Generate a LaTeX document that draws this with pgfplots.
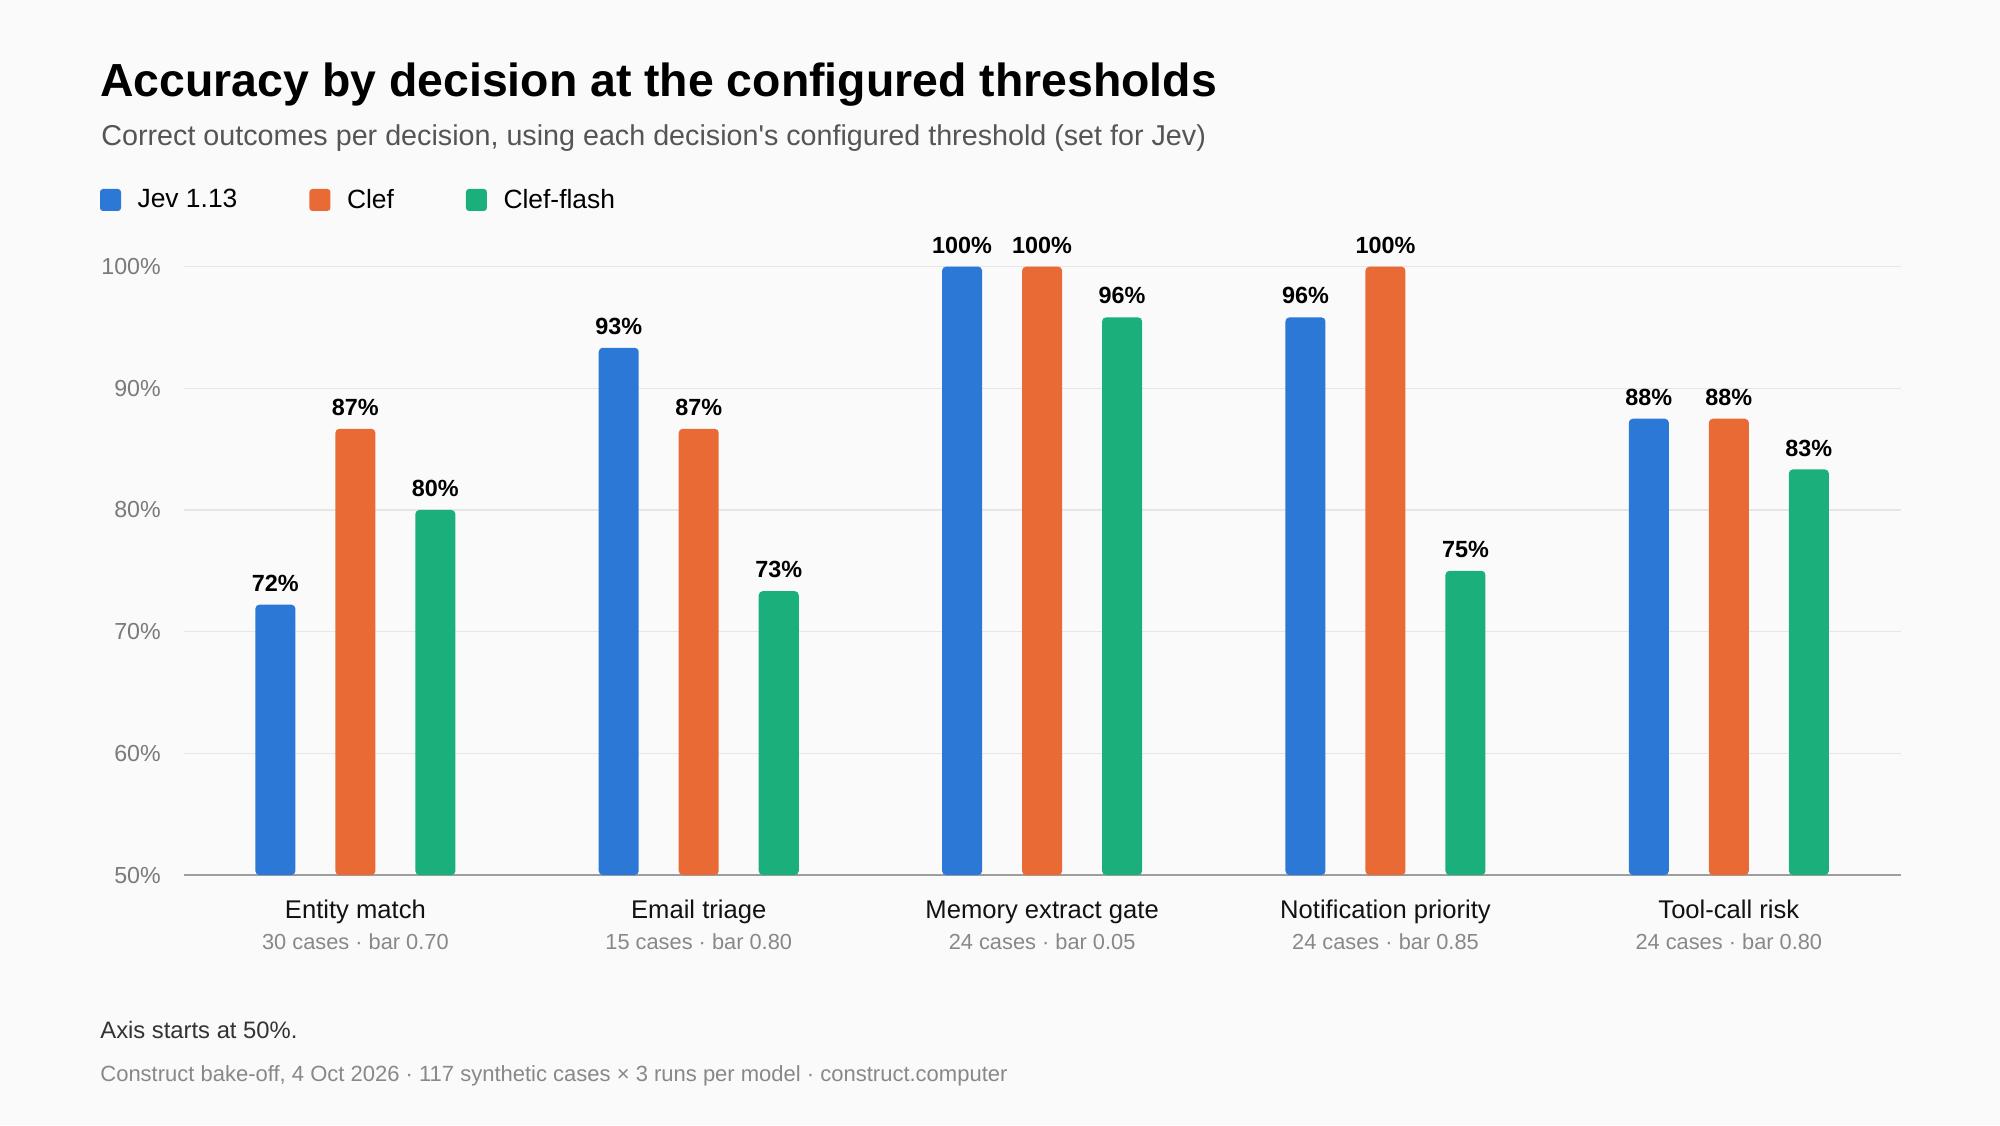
\documentclass[border=0pt]{standalone}
\usepackage{fontspec}
\setmainfont{Liberation Sans}
\usepackage{pgfplots}
\usepackage{pgfplotstable}
\pgfplotsset{compat=1.18}
\definecolor{bg}{HTML}{FAFAFA}
\definecolor{cblue}{HTML}{2B78D6}
\definecolor{corange}{HTML}{EA6A35}
\definecolor{cgreen}{HTML}{1BAF7C}
\definecolor{gridc}{HTML}{E6E6E6}
\definecolor{basec}{HTML}{9E9E9E}
\definecolor{tickc}{HTML}{7A7A7A}
\definecolor{subc}{HTML}{555555}
\definecolor{notec}{HTML}{888888}
\definecolor{darkc}{HTML}{333333}

% accuracy in percent; lab = printed label
\pgfplotstableread{
x acc lab
0 72.22 72
1 93.33 93
2 100 100
3 95.83 96
4 87.5 88
}\jev
\pgfplotstableread{
x acc lab
0 86.67 87
1 86.67 87
2 100 100
3 100 100
4 87.5 88
}\clef
\pgfplotstableread{
x acc lab
0 80 80
1 73.33 73
2 95.83 96
3 75 75
4 83.33 83
}\flash

\begin{document}
\begin{tikzpicture}
\fill[bg] (0,0) rectangle (1000pt,-562.5pt);
\useasboundingbox (0,0) rectangle (1000pt,-562.5pt);
\node[anchor=base west, inner sep=0pt, font=\fontsize{23.2}{26}\selectfont\bfseries] at (50pt,-48pt) {Accuracy by decision at the configured thresholds};
\node[anchor=base west, inner sep=0pt, text=subc, font=\fontsize{14.35}{17}\selectfont] at (50.5pt,-72.5pt) {Correct outcomes per decision, using each decision\textquotesingle s configured threshold (set for Jev)};
\begin{axis}[
  at={(91.85pt,-437.5pt)}, anchor=south west,
  scale only axis, width=858.4pt, height=304.2pt,
  xmin=-0.5, xmax=4.5, ymin=0, ymax=50,
  clip=false,
  axis line style={draw=none},
  major tick length=0pt,
  tick style={draw=none},
  ytick={0,10,20,30,40,50},
  yticklabels={50\%,60\%,70\%,80\%,90\%,100\%},
  yticklabel style={anchor=east, inner sep=0pt, xshift=-11.3pt, text=tickc, font=\fontsize{11.6}{13}\selectfont},
  ymajorgrids, grid style={gridc, line width=0.6pt},
  extra y ticks={0},
  extra y tick labels={},
  extra y tick style={grid style={basec, line width=1pt}},
  xtick={0,1,2,3,4},
  xticklabels={Entity match, Email triage, Memory extract gate, Notification priority, Tool-call risk},
  xticklabel style={anchor=base, inner sep=0pt, yshift=-21.7pt, font=\fontsize{12.8}{15}\selectfont, text=black!93},
  extra x ticks={0,1,2,3,4},
  extra x tick labels={30 cases · bar 0.70, 15 cases · bar 0.80, 24 cases · bar 0.05, 24 cases · bar 0.85, 24 cases · bar 0.80},
  extra x tick style={xticklabel style={yshift=-15.5pt, font=\fontsize{10.9}{12}\selectfont, text=notec}},
  ybar, bar width=20pt,
  nodes near coords={\pgfplotspointmeta\%},
  every node near coord/.append style={anchor=base, yshift=6.7pt, inner sep=0pt, font=\fontsize{11.7}{13}\selectfont\bfseries, text=black},
  legend columns=3,
  legend image code/.code={\fill[#1, rounded corners=1.5pt] (0pt,-5.5pt) rectangle (10.5pt,5.5pt);},
  legend style={at={(-0.04875,1.1095)}, anchor=west, draw=none, fill=none, inner sep=0pt, outer sep=0pt,
    font=\fontsize{13.2}{15}\selectfont,
    /tikz/every odd column/.append style={column sep=6.3pt},
    /tikz/every even column/.append style={column sep=34pt},
    cells={anchor=west, inner sep=0pt}},
]
\addplot[fill=cblue, draw=none, rounded corners=2pt, bar shift=-40pt, point meta=explicit symbolic]
  table[x=x, y expr=\thisrow{acc}-50, meta=lab] {\jev};
\addlegendentry{Jev 1.13}
\addplot[fill=corange, draw=none, rounded corners=2pt, bar shift=0pt, point meta=explicit symbolic]
  table[x=x, y expr=\thisrow{acc}-50, meta=lab] {\clef};
\addlegendentry{Clef}
\addplot[fill=cgreen, draw=none, rounded corners=2pt, bar shift=40pt, point meta=explicit symbolic]
  table[x=x, y expr=\thisrow{acc}-50, meta=lab] {\flash};
\addlegendentry{Clef-flash}
\end{axis}
\node[anchor=base west, inner sep=0pt, text=darkc, font=\fontsize{11.9}{14}\selectfont] at (50pt,-519.2pt) {Axis starts at 50\%.};
\node[anchor=base west, inner sep=0pt, text=notec, font=\fontsize{11}{13}\selectfont] at (50pt,-540.8pt) {Construct bake-off, 4 Oct 2026 · 117 synthetic cases × 3 runs per model · construct.computer};
\end{tikzpicture}
\end{document}
